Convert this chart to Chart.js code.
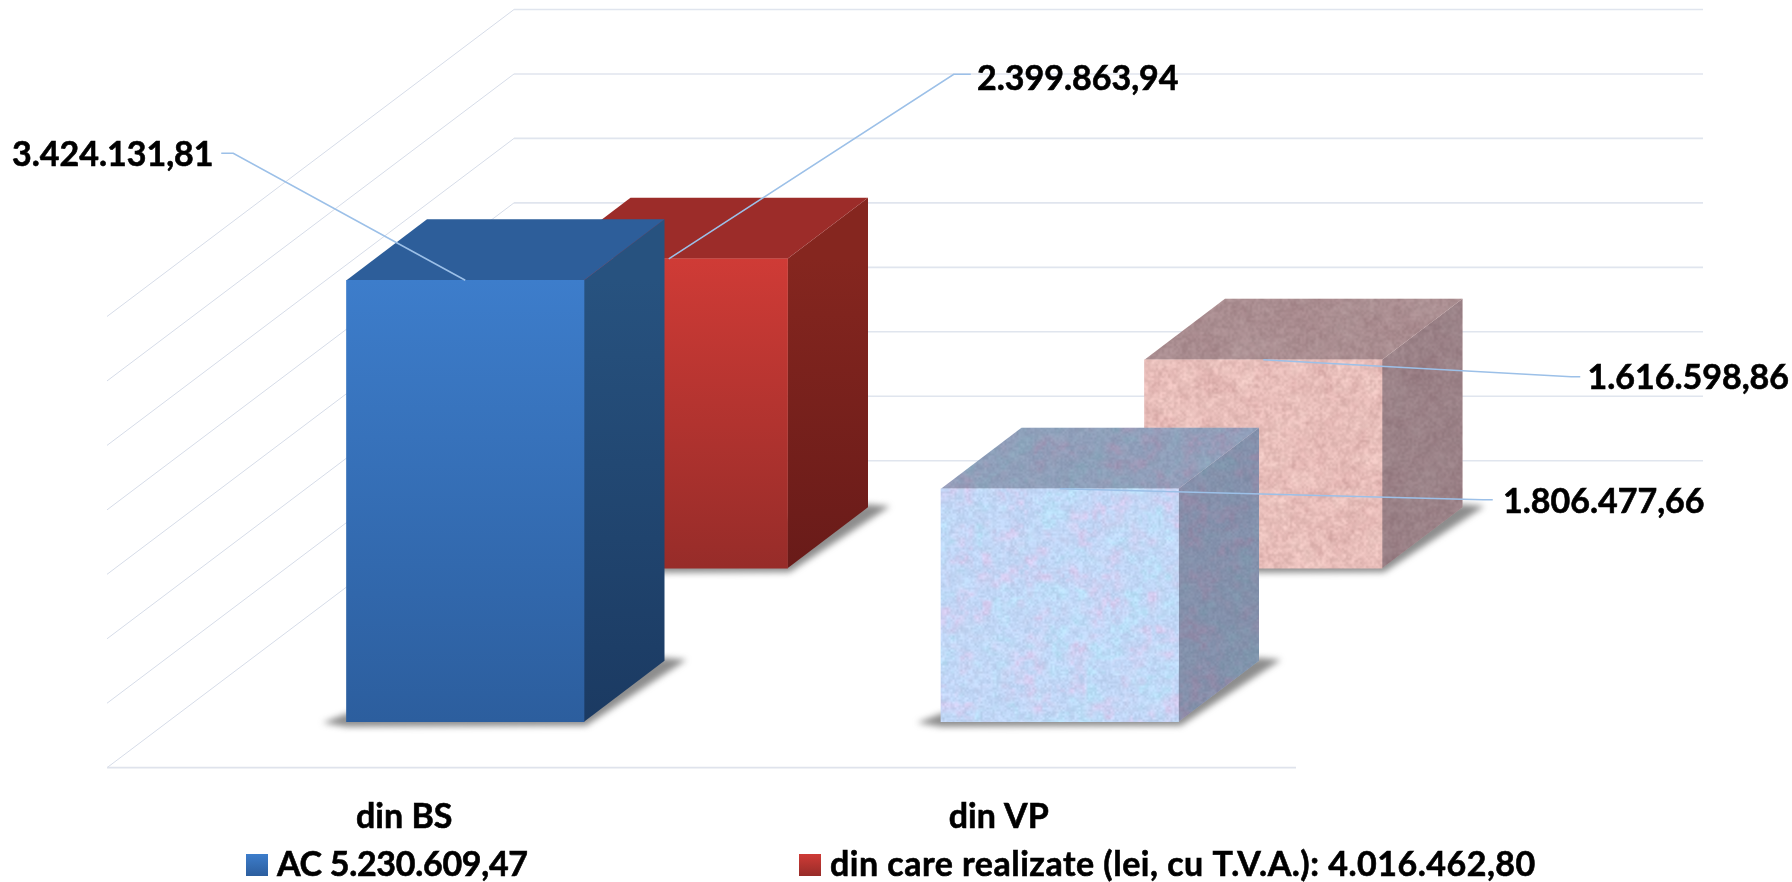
<!DOCTYPE html>
<html>
<head>
<meta charset="utf-8">
<style>
  html, body { margin: 0; padding: 0; background: #fff; }
  #wrap { width: 1792px; height: 882px; }
</style>
<script src="https://cdn.jsdelivr.net/npm/chart.js@4"></script>
</head>
<body>
<div id="wrap"><canvas id="myChart"></canvas></div>
<script>
var categories = ['din BS', 'din VP'];
var acValues = [3424131.81, 1806477.66];
var realizateValues = [2399863.94, 1616598.86];
var seriesNames = ['AC 5.230.609,47', 'din care realizate (lei, cu T.V.A.): 4.016.462,80'];
var axisMax = 3500000;
var axisStep = 500000;

var fontName = 'Lato';
var fontSize = 34;
var textWeight = 0.6;
var legendSpacing = ['-0.3px', '0.5px'];
var barWidth = 237.5;
var gridDepth = { x: 407, y: -307 };
var barDepth = { x: 80.5, y: -61 };
// where each series stands on the floor, front row first
var rowShift = [{ x: 61, y: -46 }, { x: 264.5, y: -199.5 }];

// leader line per series / category, relative to the top centre of the bar
var leaders = [
    [{ elbow: [-232, -127], end: [-244, -127], text: [-352.5, -125] },
     { elbow: [423, 11], end: [433, 11], text: [544, 13] }],
    [{ elbow: [285, -184.5], end: [302, -184.5], text: [409, -179.5] },
     { elbow: [308, 17], end: [317, 17], text: [425, 18.5] }]
];

var solidColors = [
    { top: '#3d7dcb', bottom: '#2c5e9e', lid: '#2d5e9a', sideTop: '#27527f', sideBottom: '#1b3a62' },
    { top: '#cf3b36', bottom: '#972c29', lid: '#9c2c29', sideTop: '#85261f', sideBottom: '#691b19' }
];

// mottled surface of the din VP bars, same every run
function makeLattice(cells, seed) {
    var s = seed >>> 0, vals = [];
    for (var i = 0; i < cells * cells; i++) {
        s = (Math.imul(s, 1664525) + 1013904223) >>> 0;
        vals.push(s / 4294967296);
    }
    return function(u, v) {
        var x = u * cells, y = v * cells;
        var x0 = Math.floor(x), y0 = Math.floor(y);
        var fx = x - x0, fy = y - y0;
        fx = fx * fx * (3 - 2 * fx);
        fy = fy * fy * (3 - 2 * fy);
        function at(a, b) { return vals[(a % cells) + (b % cells) * cells]; }
        var p = at(x0, y0) * (1 - fx) + at(x0 + 1, y0) * fx;
        var q = at(x0, y0 + 1) * (1 - fx) + at(x0 + 1, y0 + 1) * fx;
        return p * (1 - fy) + q * fy;
    };
}

function makeTexture(seed, base, accentA, accentB, grain) {
    var size = 320;
    var c = document.createElement('canvas');
    c.width = size; c.height = size;
    var g = c.getContext('2d');
    var img = g.createImageData(size, size);
    var n1 = makeLattice(17, seed), n2 = makeLattice(37, seed + 7), n3 = makeLattice(70, seed + 13),
        n4 = makeLattice(160, seed + 29);
    for (var y = 0; y < size; y++) {
        for (var x = 0; x < size; x++) {
            var u = x / size, v = y / size;
            var t = Math.min(1, Math.max(0, ((n1(u, v) * 0.6 + n2(u, v) * 0.4) - 0.3) / 0.4));
            var b = Math.min(1, Math.max(0, (n2(v, u) * 0.5 + n3(u, v) * 0.5 - 0.25) / 0.5));
            var f = (n4(u, v) - 0.5) * grain + (n3(v, u) - 0.5) * grain * 0.6;
            for (var k = 0; k < 3; k++) {
                var mix = accentA[k] * (1 - t) + accentB[k] * t;
                img.data[(x + y * size) * 4 + k] = base[k] * (1 - b * 0.6) + mix * b * 0.6 + f;
            }
            img.data[(x + y * size) * 4 + 3] = 255;
        }
    }
    g.putImageData(img, 0, 0);
    return c;
}

var textures = [
    makeTexture(11, [192, 214, 246], [182, 230, 250], [226, 198, 236], 18),
    makeTexture(47, [232, 190, 186], [240, 204, 198], [220, 172, 170], 24)
];

function frontFill(context) {
    var chart = context.chart;
    var row = context.datasetIndex, i = context.dataIndex;
    if (i === 1) {
        return chart.ctx.createPattern(textures[row], 'repeat');
    }
    if (!chart.chartArea || !chart.scales.y) { return solidColors[row].top; }
    var g = chart.ctx.createLinearGradient(0, chart.scales.y.getPixelForValue(context.raw), 0, chart.scales.y.getPixelForValue(0));
    g.addColorStop(0, solidColors[row].top);
    g.addColorStop(1, solidColors[row].bottom);
    return g;
}

function polygon(ctx, pts) {
    ctx.beginPath();
    ctx.moveTo(pts[0][0], pts[0][1]);
    for (var i = 1; i < pts.length; i++) { ctx.lineTo(pts[i][0], pts[i][1]); }
    ctx.closePath();
}

function fillFace(ctx, pts, row, i, isLid, top, base) {
    polygon(ctx, pts);
    if (i === 1) {
        ctx.fillStyle = ctx.createPattern(textures[row], 'repeat');
        ctx.fill();
        ctx.fillStyle = isLid ? 'rgba(40,40,60,0.32)' : 'rgba(40,40,60,0.4)';
        ctx.fill();
    } else if (isLid) {
        ctx.fillStyle = solidColors[row].lid;
        ctx.fill();
    } else {
        var g = ctx.createLinearGradient(0, top, 0, base);
        g.addColorStop(0, solidColors[row].sideTop);
        g.addColorStop(1, solidColors[row].sideBottom);
        ctx.fillStyle = g;
        ctx.fill();
    }
}

function blackText(ctx, text, x, y) {
    ctx.fillStyle = '#000';
    ctx.strokeStyle = '#000';
    ctx.lineWidth = textWeight;
    ctx.strokeText(text, x, y);
    ctx.fillText(text, x, y);
}

var depthPlugin = {
    id: 'depth',
    beforeDatasetsDraw: function(chart) {
        var ctx = chart.ctx, y = chart.scales.y, area = chart.chartArea;
        var zeroY = y.getPixelForValue(0);
        ctx.save();
        y.ticks.forEach(function(t) {
            var py = y.getPixelForValue(t.value);
            ctx.strokeStyle = '#d6dce8';
            ctx.lineWidth = 1;
            ctx.beginPath();
            ctx.moveTo(area.left, py);
            ctx.lineTo(area.left + gridDepth.x, py + gridDepth.y);
            ctx.stroke();
            ctx.lineWidth = 1.6;
            ctx.strokeStyle = '#e0e5ee';
            ctx.beginPath();
            ctx.moveTo(area.left + gridDepth.x, py + gridDepth.y);
            ctx.lineTo(area.right + gridDepth.x, py + gridDepth.y);
            ctx.stroke();
        });
        ctx.lineWidth = 1.8;
        ctx.strokeStyle = '#dfe3ec';
        ctx.beginPath();
        ctx.moveTo(area.left, zeroY);
        ctx.lineTo(area.right, zeroY);
        ctx.stroke();
        ctx.restore();
    },
    beforeDatasetDraw: function(chart, args) {
        var ctx = chart.ctx, row = args.index, shift = rowShift[row];
        ctx.save();
        ctx.translate(shift.x, shift.y);
        args.meta.data.forEach(function(el, i) {
            var l = el.x - el.width / 2, r = el.x + el.width / 2, t = el.y, b = el.base;
            var dx = barDepth.x, dy = barDepth.y;
            // soft shadow on the floor
            ctx.save();
            ctx.filter = 'blur(3px)';
            ctx.fillStyle = 'rgba(80,80,80,0.65)';
            polygon(ctx, [[l - 24, b + 1], [l, b + 5], [r + 2, b + 4], [r + dx + 22, b + dy - 1], [r + dx, b + dy - 3], [l, b - 8]]);
            ctx.fill();
            ctx.restore();
            fillFace(ctx, [[r, t], [r + dx, t + dy], [r + dx, b + dy], [r, b]], row, i, false, t, b);
            fillFace(ctx, [[l, t], [l + dx, t + dy], [r + dx, t + dy], [r, t]], row, i, true, t, b);
        });
    },
    afterDatasetDraw: function(chart) {
        chart.ctx.restore();
    },
    afterDatasetsDraw: function(chart) {
        var ctx = chart.ctx;
        ctx.save();
        ctx.font = 'bold ' + fontSize + 'px ' + fontName;
        ctx.textAlign = 'center';
        ctx.textBaseline = 'middle';
        chart.data.datasets.forEach(function(ds, row) {
            chart.getDatasetMeta(row).data.forEach(function(el, i) {
                var ax = el.x + rowShift[row].x, ay = el.y + rowShift[row].y, lead = leaders[row][i];
                ctx.strokeStyle = '#9cc0e8';
                ctx.lineWidth = 1.6;
                ctx.beginPath();
                ctx.moveTo(ax, ay);
                ctx.lineTo(ax + lead.elbow[0], ay + lead.elbow[1]);
                ctx.lineTo(ax + lead.end[0], ay + lead.end[1]);
                ctx.stroke();
                var label = ds.data[i].toLocaleString('ro-RO', { minimumFractionDigits: 2, maximumFractionDigits: 2 });
                blackText(ctx, label, ax + lead.text[0], ay + lead.text[1]);
            });
        });
        // legend
        var swatchX = [246, 799], legendY = 865;
        ctx.textAlign = 'left';
        seriesNames.forEach(function(name, row) {
            var g = ctx.createLinearGradient(0, legendY - 11, 0, legendY + 11);
            g.addColorStop(0, solidColors[row].top);
            g.addColorStop(1, solidColors[row].bottom);
            ctx.fillStyle = g;
            ctx.fillRect(swatchX[row], legendY - 11, 22, 22);
            ctx.letterSpacing = legendSpacing[row];
            blackText(ctx, name, swatchX[row] + 31, legendY);
        });
        ctx.restore();
    }
};

var config = {
    type: 'bar',
    data: {
        labels: categories,
        datasets: [
            { label: seriesNames[0], data: acValues, backgroundColor: frontFill, borderWidth: 0 },
            { label: seriesNames[1], data: realizateValues, backgroundColor: frontFill, borderWidth: 0 }
        ]
    },
    options: {
        responsive: true,
        maintainAspectRatio: false,
        animation: false,
        layout: { padding: { left: 107, right: 496, top: 316.5, bottom: 15.5 } },
        datasets: { bar: { grouped: false, barThickness: barWidth, clip: false } },
        plugins: { legend: { display: false }, title: { display: false }, tooltip: { enabled: false } },
        scales: {
            x: {
                grid: { display: false, drawTicks: false },
                border: { display: false },
                ticks: {
                    color: '#000',
                    padding: 29,
                    maxRotation: 0,
                    textStrokeColor: '#000',
                    textStrokeWidth: textWeight,
                    font: { family: fontName, size: fontSize, weight: 'bold' }
                }
            },
            y: {
                display: false,
                min: 0,
                max: axisMax,
                ticks: { stepSize: axisStep }
            }
        }
    },
    plugins: [depthPlugin]
};

window.onload = function() {
    var ctx = document.getElementById('myChart').getContext('2d');
    window.myBars = new Chart(ctx, config);
};
</script>
</body>
</html>
